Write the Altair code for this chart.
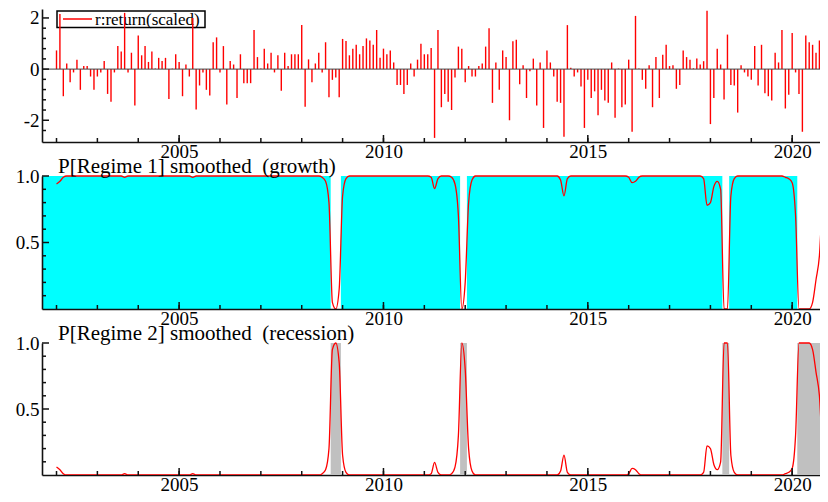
import altair as alt
import pandas as pd

# ---------------- data (monthly, first observation 2002(1)) ----------------
start_year = 2002

returns = [
    0.73, 2.15, -1.06, 0.22, -0.51, -0.13, 0.37, -0.81, 0.12, 0.12,
    -0.29, -0.81, -0.29, -0.13, 0.32, -0.97, -1.28, -0.13, 0.90, 0.69,
    2.20, -0.13, 0.64, -1.42, 1.31, 0.54, 0.90, 0.28, 0.69, 0.02,
    0.44, 0.32, 0.44, -1.17, 0.02, 0.58, 0.28, -1.06, 0.18, -0.29,
    2.00, -1.58, -0.64, -0.13, -0.81, -1.03, 1.05, 1.24, -0.13, 0.90,
    -1.38, 0.32, 0.18, -1.13, 0.58, -0.55, -0.55, -0.55, 1.53, 0.47,
    0.02, 0.80, 0.22, 0.64, -0.13, 0.54, -0.85, 0.64, 0.12, 0.58,
    0.58, 0.58, 1.72, -1.47, 0.38, -0.51, 0.22, 0.64, -0.13, 1.05,
    -1.10, -0.42, -0.33, -1.10, 1.18, 1.10, 0.54, 0.80, 0.95, 0.58,
    0.90, 1.20, 1.12, 0.95, 1.53, 0.44, 0.80, 0.58, 0.73, 0.26,
    -0.62, -0.62, -0.97, -0.62, 0.22, -0.29, 0.37, 0.99, 0.58, 0.58,
    0.83, -2.69, 1.53, -1.49, -0.97, -1.28, -1.60, -0.33, 0.88, 0.80,
    -0.51, 0.12, -0.29, -0.29, 0.12, 0.22, 0.88, 1.60, -1.32, 0.26,
    -0.81, 0.73, 0.47, -2.00, 1.09, 1.15, -0.59, 0.15, -1.13, -0.08,
    0.41, -1.42, 0.26, -2.30, 0.73, 0.26, -0.29, -1.28, -1.32, -2.64,
    1.72, 0.05, -0.29, -0.13, -0.68, -2.30, -0.42, -1.13, -0.87, -1.80,
    -0.81, -1.23, -1.32, 0.26, -1.90, 0.02, -1.49, -1.38, 0.37, -2.45,
    2.08, 0.02, -0.42, -0.77, 0.15, -1.49, 0.47, -1.13, 0.56, 0.95,
    0.12, 0.15, -0.77, -0.62, 0.73, 0.47, 0.37, 0.03, 0.41, 0.18,
    0.31, 2.28, -2.15, -1.13, 0.80, 0.18, -1.19, 1.35, -0.62, -0.64,
    -1.70, 0.15, -0.13, -0.29, -0.42, 0.90, -0.64, 0.95, -0.94, -1.06,
    -1.23, 0.64, 0.26, 1.53, -1.54, -1.00, 1.41, -0.13, -0.97, -2.45,
    1.31, 1.05, 0.95, 0.64, 1.12, 0.95, 1.15,
]

p_regime2 = [
    0.06, 0.04, 0.01, 0, 0, 0, 0, 0, 0, 0,
    0, 0, 0, 0, 0, 0, 0, 0, 0, 0,
    0.01, 0, 0, 0, 0, 0, 0, 0, 0, 0,
    0, 0, 0, 0, 0, 0, 0, 0, 0, 0,
    0.01, 0, 0, 0, 0, 0, 0, 0, 0, 0,
    0, 0, 0, 0, 0, 0, 0, 0, 0, 0,
    0, 0, 0, 0, 0, 0, 0, 0, 0, 0,
    0, 0, 0, 0, 0, 0, 0, 0, 0.01, 0.04,
    0.20, 0.95, 1.00, 0.85, 0.15, 0.02, 0, 0, 0, 0,
    0, 0, 0, 0, 0, 0, 0, 0, 0, 0,
    0, 0, 0, 0, 0, 0, 0, 0, 0, 0,
    0.01, 0.095, 0.02, 0, 0, 0, 0.01, 0.06, 0.30, 1.00,
    0.80, 0.20, 0.03, 0, 0, 0, 0, 0, 0, 0,
    0, 0, 0, 0, 0, 0, 0, 0, 0, 0,
    0, 0, 0, 0, 0, 0, 0, 0, 0.03, 0.15,
    0.02, 0, 0, 0, 0, 0, 0, 0, 0, 0,
    0, 0, 0, 0, 0, 0, 0, 0, 0.01, 0.05,
    0.04, 0.01, 0, 0, 0, 0, 0, 0, 0, 0,
    0, 0, 0, 0, 0, 0, 0, 0, 0, 0,
    0.02, 0.22, 0.20, 0.08, 0.04, 0.10, 1.00, 1.00, 0.15, 0.02,
    0, 0, 0, 0, 0, 0, 0, 0, 0, 0,
    0, 0, 0, 0, 0.01, 0.02, 0.05, 0.30, 1.00, 1.00,
    1.00, 1.00, 0.95, 0.78, 0.60, 0.15, 0.03,
]

# classified regime periods (observation indices, inclusive)
regime1_first = [0, 84, 121, 198, 225]
regime1_last = [80, 118, 195, 217, 226]
regime2_first = [81, 119, 196, 218]
regime2_last = [83, 120, 197, 224]

x_minor_ticks = list(range(2002, 2021))
x_major_ticks = [2005, 2010, 2015, 2020]
y1_major_ticks = [-2, 0, 2]
y1_minor_ticks = [-2.4, -1.6, -1.2, -0.8, -0.4, 0.4, 0.8, 1.2, 1.6]
yp_major_ticks = [0.5, 1.0]
yp_minor_ticks = [0.1, 0.2, 0.3, 0.4, 0.6, 0.7, 0.8, 0.9]

legend_label = ["r:return(scaled)"]
title2 = ["P[Regime 1] smoothed\u00a0 (growth)"]
title3 = ["P[Regime 2] smoothed\u00a0 (recession)"]

# ---------------- layout / style ----------------
FONT = "Liberation Serif"
W, H = 778, 466
PX_PER_YEAR = 40.87
X_DOMAIN = [2001.645, 2001.645 + W / PX_PER_YEAR]
Y1_DOMAIN = [-2.85, 2.35]
P1_RANGE = [133, 0]
P2_RANGE = [300, 167]
P3_RANGE = [466, 334]
AX = "#111111"

t = [start_year + i / 12 for i in range(len(returns))]
df_r = pd.DataFrame({"t": t, "r": returns, "zero": 0.0})
df_p = pd.DataFrame({"t": t, "p2": p_regime2})
df_p["p1"] = 1 - df_p["p2"]


def band_df(first, last, clip_start):
    x0 = [start_year + (f - 0.5) / 12 for f in first]
    x1 = [start_year + (l + 0.5) / 12 for l in last]
    if clip_start:
        x0[0] = X_DOMAIN[0]
    return pd.DataFrame({"x0": x0, "x1": x1, "lo": 0.0, "hi": 1.0})


df_b1 = band_df(regime1_first, regime1_last, True)
df_b2 = band_df(regime2_first, regime2_last, False)

df_xminor = pd.DataFrame({"v": x_minor_ticks})
df_xmajor = pd.DataFrame({"v": x_major_ticks})


def xscale():
    return alt.Scale(domain=X_DOMAIN, nice=False, zero=False)


def xaxis(offset, z):
    return alt.Axis(orient="bottom", offset=offset, values=x_major_ticks, format="d",
                    ticks=False, grid=False, domain=True, domainColor=AX, domainWidth=1.6,
                    labelFont=FONT, labelFontSize=19, labelColor="#000", labelPadding=0,
                    labelFlush=False, labelOverlap=False, title=None, zindex=z)


def yaxis(values, fmt_expr):
    return alt.Axis(orient="left", values=values, labelExpr=fmt_expr,
                    ticks=False, grid=False, domain=True, domainColor=AX, domainWidth=1.6,
                    labelFont=FONT, labelFontSize=19, labelColor="#000", labelPadding=3,
                    labelFlush=False, labelOverlap=False, title=None, zindex=1)


def tick_layers(xax, bottom_px, yscale, yax, ymajor, yminor):
    xs = alt.X("v:Q", scale=xscale(), axis=xax)
    ys = alt.Y("v:Q", scale=yscale, axis=yax)
    xmin = alt.Chart(df_xminor).mark_rule(color=AX, strokeWidth=1.5).encode(
        x=xs, y=alt.value(bottom_px), y2=alt.value(bottom_px - 4))
    xmaj = alt.Chart(df_xmajor).mark_rule(color=AX, strokeWidth=1.5).encode(
        x=xs, y=alt.value(bottom_px), y2=alt.value(bottom_px - 7))
    ymin = alt.Chart(pd.DataFrame({"v": yminor})).mark_rule(color=AX, strokeWidth=1.5).encode(
        y=ys, x=alt.value(0), x2=alt.value(4))
    ymaj = alt.Chart(pd.DataFrame({"v": ymajor})).mark_rule(color=AX, strokeWidth=1.5).encode(
        y=ys, x=alt.value(0), x2=alt.value(7))
    return [xmin, xmaj, ymin, ymaj]


# ---------------- panel 1: returns ----------------
ax1x = xaxis(P1_RANGE[0] - H, 1)
y1s = alt.Scale(domain=Y1_DOMAIN, range=P1_RANGE, nice=False, zero=False)
ax1y = yaxis(y1_major_ticks, "toString(datum.value)")

df_leg = pd.DataFrame({"label": legend_label})
leg_box = alt.Chart(df_leg).mark_rect(fillOpacity=0, stroke="#000", strokeWidth=1.5).encode(
    x=alt.value(15), x2=alt.value(163), y=alt.value(2), y2=alt.value(18.5))
leg_line = alt.Chart(df_leg).mark_rule(color="#ff0000", strokeWidth=1.5).encode(
    x=alt.value(21), x2=alt.value(50), y=alt.value(10))
leg_text = alt.Chart(df_leg).mark_text(align="left", baseline="middle", font=FONT,
                                       fontSize=17, color="#000").encode(
    x=alt.value(53), y=alt.value(10.5), text="label:N")

bars = alt.Chart(df_r).mark_rule(color="#ff0000", strokeWidth=1.4, clip=True).encode(
    x=alt.X("t:Q", scale=xscale(), axis=ax1x),
    y=alt.Y("zero:Q", scale=y1s, axis=ax1y),
    y2="r:Q")
zero_line = alt.Chart(pd.DataFrame({"v": [0.0]})).mark_rule(color="#444444", strokeWidth=1).encode(
    y=alt.Y("v:Q", scale=y1s, axis=ax1y))

panel1 = alt.layer(leg_box, leg_line, leg_text, bars, zero_line,
                   *tick_layers(ax1x, P1_RANGE[0], y1s, ax1y, y1_major_ticks, y1_minor_ticks))

# ---------------- panel 2: P[Regime 1] ----------------
ax2x = xaxis(P2_RANGE[0] - H, 1)
y2s = alt.Scale(domain=[0, 1], range=P2_RANGE, nice=False, zero=False)
ax2y = yaxis(yp_major_ticks, "format(datum.value, '.1f')")

cyan = alt.Chart(df_b1).mark_rect(color="#00ffff", clip=True).encode(
    x=alt.X("x0:Q", scale=xscale(), axis=ax2x), x2="x1:Q",
    y=alt.Y("lo:Q", scale=y2s, axis=ax2y), y2="hi:Q")
line2 = alt.Chart(df_p).mark_line(color="#ff0000", strokeWidth=1.3, interpolate="monotone",
                                  clip=True).encode(
    x=alt.X("t:Q", scale=xscale(), axis=ax2x),
    y=alt.Y("p1:Q", scale=y2s, axis=ax2y))
t2 = alt.Chart(pd.DataFrame({"label": title2})).mark_text(
    align="left", baseline="alphabetic", font=FONT, fontSize=21, color="#000").encode(
    x=alt.value(16), y=alt.value(P2_RANGE[1] - 3.5), text="label:N")

panel2 = alt.layer(cyan, line2, t2,
                   *tick_layers(ax2x, P2_RANGE[0], y2s, ax2y, yp_major_ticks, yp_minor_ticks))

# ---------------- panel 3: P[Regime 2] ----------------
ax3x = xaxis(0, 0)
y3s = alt.Scale(domain=[0, 1], range=P3_RANGE, nice=False, zero=False)
ax3y = yaxis(yp_major_ticks, "format(datum.value, '.1f')")

gray = alt.Chart(df_b2).mark_rect(color="#c0c0c0", clip=True).encode(
    x=alt.X("x0:Q", scale=xscale(), axis=ax3x), x2="x1:Q",
    y=alt.Y("lo:Q", scale=y3s, axis=ax3y), y2="hi:Q")
line3 = alt.Chart(df_p).mark_line(color="#ff0000", strokeWidth=1.3, interpolate="monotone",
                                  clip=True).encode(
    x=alt.X("t:Q", scale=xscale(), axis=ax3x),
    y=alt.Y("p2:Q", scale=y3s, axis=ax3y))
t3 = alt.Chart(pd.DataFrame({"label": title3})).mark_text(
    align="left", baseline="alphabetic", font=FONT, fontSize=21, color="#000").encode(
    x=alt.value(16), y=alt.value(P3_RANGE[1] - 3.5), text="label:N")

panel3 = alt.layer(gray, line3, t3,
                   *tick_layers(ax3x, P3_RANGE[0], y3s, ax3y, yp_major_ticks, yp_minor_ticks))

chart = alt.layer(panel1, panel2, panel3).resolve_scale(
    x="independent", y="independent"
).properties(
    width=W, height=H, autosize="none",
    padding={"left": 34, "top": 1, "right": 0, "bottom": 19},
    background="white",
).configure_view(stroke=None)

chart.save("out.html", embed_options={"renderer": "svg", "actions": False})
